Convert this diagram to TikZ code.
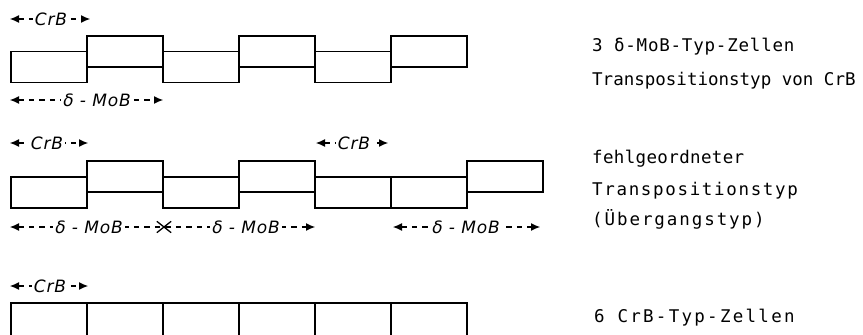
\documentclass[tikz,border=0pt]{standalone}
\usepackage{fontspec}
\usetikzlibrary{arrows.meta,shapes.misc}
\newfontfamily\platefont{DejaVu Sans Mono}
\newfontfamily\dimfont{DejaVu Sans}[LetterSpace=5]
\newcommand{\spaced}[2]{{\addfontfeature{LetterSpace=#1}#2}}
\begin{document}
\begin{tikzpicture}[x=1pt,y=-1pt,
  cell/.style={draw, line width=1.1pt, minimum width=76pt, minimum height=31pt,
    inner sep=0pt, outer sep=0pt},
  lowcell/.style={cell},
  highcell/.style={cell, line width=2.4pt},
  dim/.style={line width=1.1pt, dash pattern=on 5.5pt off 5pt,
    {Latex[length=9pt,width=8pt]}-{Latex[length=9pt,width=8pt]}},
  dimlabel/.style={fill=white, inner sep=2pt,
    font=\dimfont\itshape\fontsize{17}{19}\selectfont},
  caption/.style={anchor=base west, inner sep=0pt,
    font=\platefont\fontsize{17.5}{20}\selectfont},
]
\useasboundingbox (0,0) rectangle (863,335);

% ---------- row 1: three delta-MoB cells ----------
\node[lowcell]  (a1) at (49,67)    {};
\node[lowcell]  (a3) at (201,67)   {};
\node[lowcell]  (a5) at (353,67)   {};
\node[highcell] (a2) at (125,51.5) {};
\node[highcell] (a4) at (277,51.5) {};
\node[highcell] (a6) at (429,51.5) {};

\coordinate (p1l) at (10,19);  \coordinate (p1r) at (90,19);
\draw[dim] (p1l) -- (p1r);
\node[dimlabel] (l1) at (51,19) {CrB};

\coordinate (q1l) at (10,100); \coordinate (q1r) at (163,100);
\draw[dim] (q1l) -- (q1r);
\node[dimlabel] (m1) at (97,100) {δ - MoB};

\node[caption] (t1) at (592,51) {\spaced{4.5}{3 δ-MoB-Typ-Zellen}};
\node[caption] (t2) at (592,85) {\spaced{0}{Transpositionstyp von CrB}};

% ---------- row 2: disordered transposition type ----------
\node[lowcell]  (b1) at (49,192.5)  {};
\node[lowcell]  (b3) at (201,192.5) {};
\node[lowcell]  (b5) at (353,192.5) {};
\node[lowcell]  (b6) at (429,192.5) {};
\node[highcell] (b2) at (125,176.5) {};
\node[highcell] (b4) at (277,176.5) {};
\node[highcell] (b7) at (505,176.5) {};

\coordinate (p2l) at (10,143);  \coordinate (p2r) at (88,143);
\draw[dim] (p2l) -- (p2r);
\node[dimlabel] (l2) at (47,143) {CrB};

\coordinate (p3l) at (316,143); \coordinate (p3r) at (388,143);
\draw[dim] (p3l) -- (p3r);
\node[dimlabel] (l3) at (354,143) {CrB};

\coordinate (q2l) at (10,227);  \coordinate (q2r) at (315,227);
\draw[dim] (q2l) -- (q2r);
\node[cross out, draw, line width=1.3pt, minimum width=13pt, minimum height=10pt,
  inner sep=0pt, fill=white] (xm) at (164,227) {};
\node[dimlabel] (m2) at (89,227)  {δ - MoB};
\node[dimlabel] (m3) at (246,227) {δ - MoB};

\coordinate (q3l) at (393,227); \coordinate (q3r) at (540,227);
\draw[dim] (q3l) -- (q3r);
\node[dimlabel] (m4) at (466,227) {δ - MoB};

\node[caption] (t3) at (592,163) {\spaced{2}{fehlgeordneter}};
\node[caption] (t4) at (592,195) {\spaced{9.5}{Transpositionstyp}};
\node[caption] (t5) at (592,225) {\spaced{11}{(Übergangstyp)}};

% ---------- row 3: six CrB cells ----------
\begin{scope}
  \clip (0,0) rectangle (863,335);
  \foreach \i/\cx in {1/49,2/125,3/201,4/277,5/353,6/429}
    \node[lowcell, minimum height=40pt] (c\i) at (\cx,323) {};
\end{scope}

\coordinate (p4l) at (10,286);  \coordinate (p4r) at (88,286);
\draw[dim] (p4l) -- (p4r);
\node[dimlabel] (l4) at (50,286) {CrB};

\node[caption] (t6) at (594,322) {\spaced{13}{6 CrB-Typ-Zellen}};
\end{tikzpicture}
\end{document}
